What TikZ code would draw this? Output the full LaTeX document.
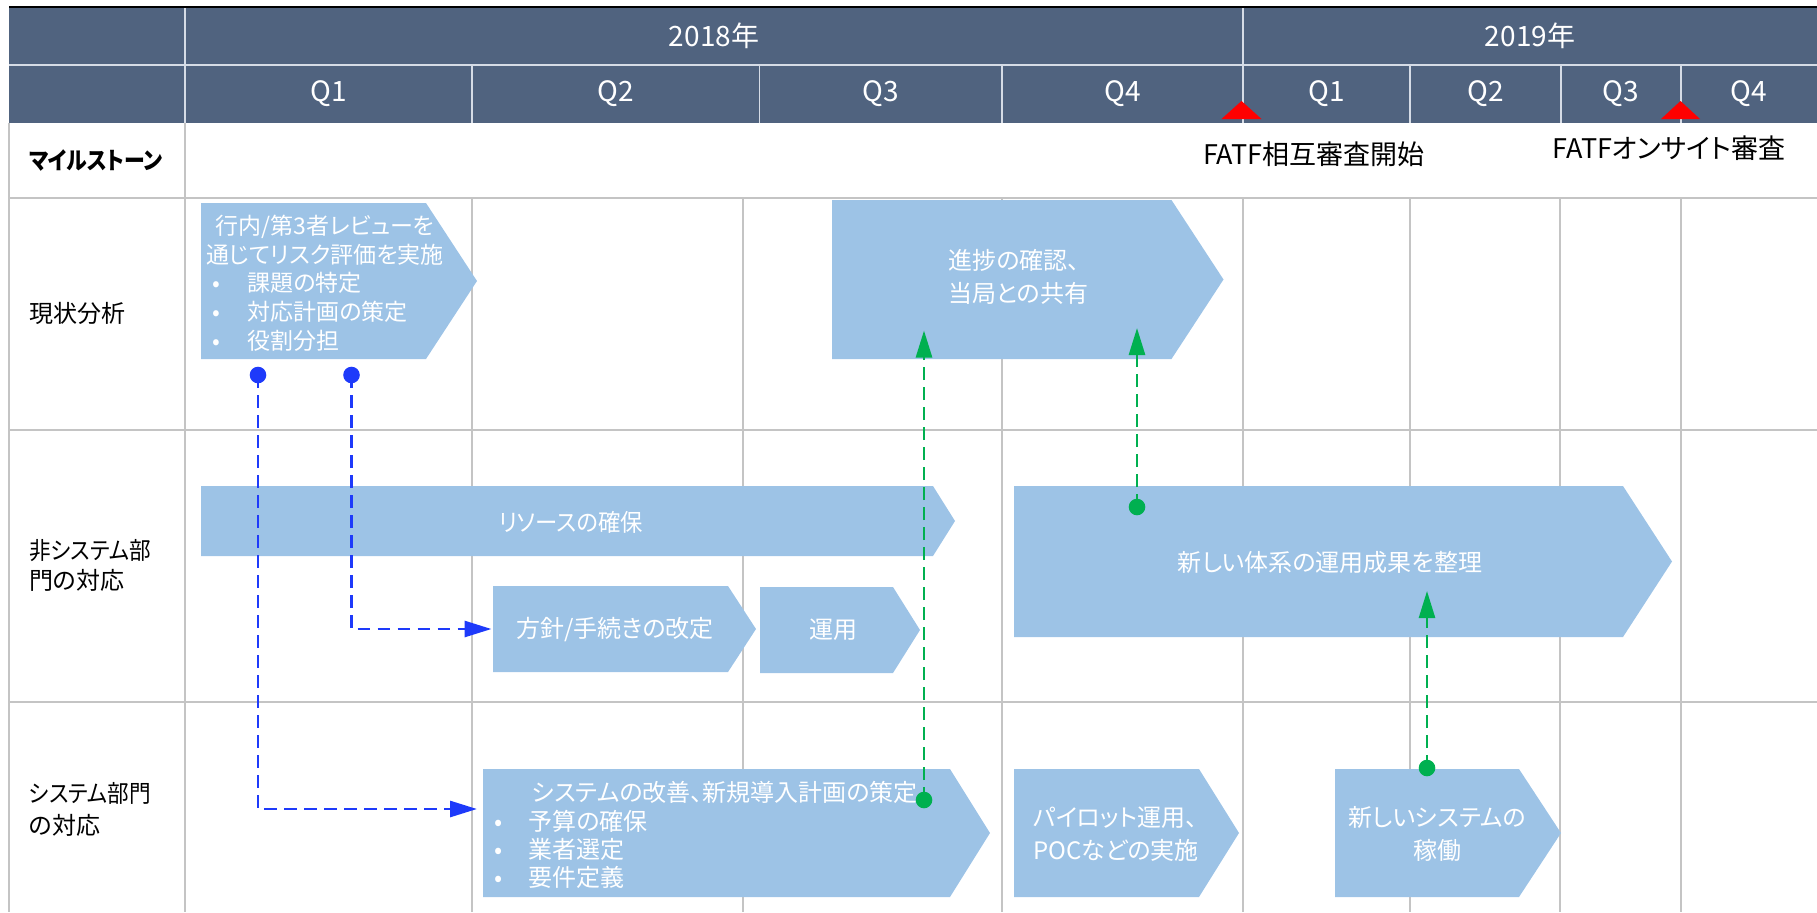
\documentclass[tikz,border=0pt]{standalone}
\usepackage{fontspec}
\setmainfont{Noto Sans CJK JP}[RawFeature=+palt]
\usetikzlibrary{arrows.meta}
\definecolor{hdr}{RGB}{80,99,127}
\definecolor{chevc}{RGB}{157,195,230}
\definecolor{gridc}{RGB}{196,196,196}
\definecolor{hline}{RGB}{214,220,230}
\definecolor{dashblue}{RGB}{30,58,250}
\definecolor{dashgreen}{RGB}{0,176,80}
\definecolor{msred}{RGB}{255,0,0}
\newcommand\chev[5]{\fill[chevc] (#1,#2) -- (#3,#2) -- (#4,{(#2+#5)/2}) -- (#3,#5) -- (#1,#5) -- cycle;}
\tikzset{
 hdrtxt/.style={text=white, inner sep=0pt, font=\fontsize{14}{17}\selectfont},
 chevtxt/.style={text=white, inner sep=0pt, font=\fontsize{12}{16.5}\selectfont},
 listtxt/.style={text=white, inner sep=0pt, anchor=west, align=left},
 rowlbl/.style={anchor=west, inner sep=0pt, align=left, font=\fontsize{12}{15}\selectfont},
 mstxt/.style={inner sep=0pt, font=\fontsize{13.5}{16}\selectfont},
 bluedash/.style={dashblue, line width=1.4pt, dash pattern=on 6.3pt off 3.7pt, -{Triangle[length=13.5pt,width=8pt]}},
 greendash/.style={dashgreen, line width=1.3pt, dash pattern=on 6.3pt off 3.7pt, -{Triangle[length=13.5pt,width=8pt]}},
 bluedot/.style={circle, fill=dashblue, inner sep=0pt, minimum size=8.3pt},
 greendot/.style={circle, fill=dashgreen, inner sep=0pt, minimum size=8.3pt},
 gridline/.style={gridc, line width=0.75pt},
 hdrline/.style={hline, line width=0.75pt},
 mstri/.style={fill=msred}
}
\newcommand\blt[1]{\makebox[#1][l]{•}}
\newcommand\narrow[2]{\scalebox{#1}[1]{#2}}
\begin{document}
\begin{tikzpicture}[x=0.5pt,y=-0.5pt]
\useasboundingbox (0,0) rectangle (1817,912);
% header
\fill[hdr] (9,7) rectangle (1817,122.7);
\draw[hdrline] (9,65) -- (1817,65);
\draw[hdrline] (185,7) -- (185,122.7);
\draw[hdrline] (1243,7) -- (1243,122.7);
\foreach \x in {472,759.5,1002,1410,1561,1681} \draw[hdrline] (\x,65) -- (\x,122.7);
\draw[black, line width=0.6pt] (9,7) -- (1817,7);
\node[hdrtxt] (y18) at (714,36) {2018年};
\node[hdrtxt] (y19) at (1530,36) {2019年};
\node[hdrtxt] (q1a) at (328.5,94) {Q1};
\node[hdrtxt] (q2a) at (616,94) {Q2};
\node[hdrtxt] (q3a) at (881,94) {Q3};
\node[hdrtxt] (q4a) at (1122.5,94) {Q4};
\node[hdrtxt] (q1b) at (1326.5,94) {Q1};
\node[hdrtxt] (q2b) at (1485.5,94) {Q2};
\node[hdrtxt] (q3b) at (1621,94) {Q3};
\node[hdrtxt] (q4b) at (1749,94) {Q4};
% grid
\draw[gridline] (9,122.7) -- (9,912);
\draw[gridline] (185,122.7) -- (185,912);
\foreach \y in {198,430,702} \draw[gridc, line width=1pt] (9,\y) -- (1817,\y);
\foreach \x in {472,743,1002,1243,1410,1560,1681} \draw[gridline] (\x,198) -- (\x,912);
% milestones
\fill[mstri] (1221.5,119) -- (1261.5,119) -- (1241.5,101) -- cycle;
\fill[mstri] (1661,119) -- (1700,119) -- (1680.5,101) -- cycle;
\node[mstxt] (ms1) at (1314,154) {FATF相互審査開始};
\node[mstxt] (ms2) at (1669,148) {FATFオンサイト審査};
% row labels
\node[rowlbl, font=\bfseries\fontsize{12}{15}\selectfont] (rms) at (28.7,161) {\narrow{0.87}{マイルストーン}};
\node[rowlbl] (r1) at (28.7,313) {現状分析};
\node[rowlbl] (r2) at (28.7,565) {\narrow{0.9}{非システム部}\\門の対応};
\node[rowlbl, font=\fontsize{12}{16}\selectfont] (r3) at (28.7,809) {\narrow{0.9}{システム部門}\\の対応};
% chevrons
\chev{201}{203}{426}{477}{359}
\chev{832}{200}{1171.5}{1223.5}{359}
\chev{201}{486}{933}{955}{556}
\chev{493}{586}{728}{756}{672}
\chev{760}{587}{893}{920}{673}
\chev{1014}{486}{1623}{1672}{637}
\chev{483}{769}{950}{990}{897}
\chev{1014}{769}{1199}{1239}{897}
\chev{1335}{769}{1519}{1561}{897}
% chevron texts
\node[chevtxt, align=center, font=\fontsize{11.5}{14.5}\selectfont] (Ah) at (325,240) {行内/第3者レビューを\\通じてリスク評価を実施};
\node[listtxt, font=\fontsize{11.5}{14.5}\selectfont] (Al) at (212,312) {\blt{17.5pt}課題の特定\\\blt{17.5pt}対応計画の策定\\\blt{17.5pt}役割分担};
\node[chevtxt, align=left, anchor=west] (Bt) at (948,277) {進捗の確認、\\当局との共有};
\node[chevtxt] (Ct) at (571,522) {\narrow{0.93}{リソースの確保}};
\node[chevtxt] (Dt) at (615,630) {方針/手続きの改定};
\node[chevtxt] (Et) at (833,630) {運用};
\node[chevtxt] (Ft) at (1330,562) {新しい体系の運用成果を整理};
\node[chevtxt] (Gh) at (725,792) {システムの改善、新規導入計画の策定};
\node[listtxt, font=\fontsize{12}{14}\selectfont] (Gl) at (494,849.5) {\blt{17pt}予算の確保\\\blt{17pt}業者選定\\\blt{17pt}要件定義};
\node[chevtxt, align=left, anchor=west] (Ht) at (1033,834.4) {パイロット運用、\\POCなどの実施};
\node[chevtxt, align=center] (It) at (1437,834.4) {新しいシステムの\\稼働};
% connectors
\node[bluedot] (d1) at (258,375) {};
\node[bluedot] (d2) at (351.5,375) {};
\coordinate (tb1) at (477,809);
\coordinate (tb2) at (491.5,629);
\draw[bluedash] (d1.center) |- (tb1);
\draw[bluedash] (d2.center) |- (tb2);
\node[greendot] (g1) at (924,800) {};
\node[greendot] (g2) at (1137,507) {};
\node[greendot] (g3) at (1427,768) {};
\coordinate (tg1) at (924,330.5);
\coordinate (tg2) at (1137,328);
\coordinate (tg3) at (1427,591);
\draw[greendash] (g1.center) -- (tg1);
\draw[greendash] (g2.center) -- (tg2);
\draw[greendash] (g3.center) -- (tg3);
\end{tikzpicture}
\end{document}
